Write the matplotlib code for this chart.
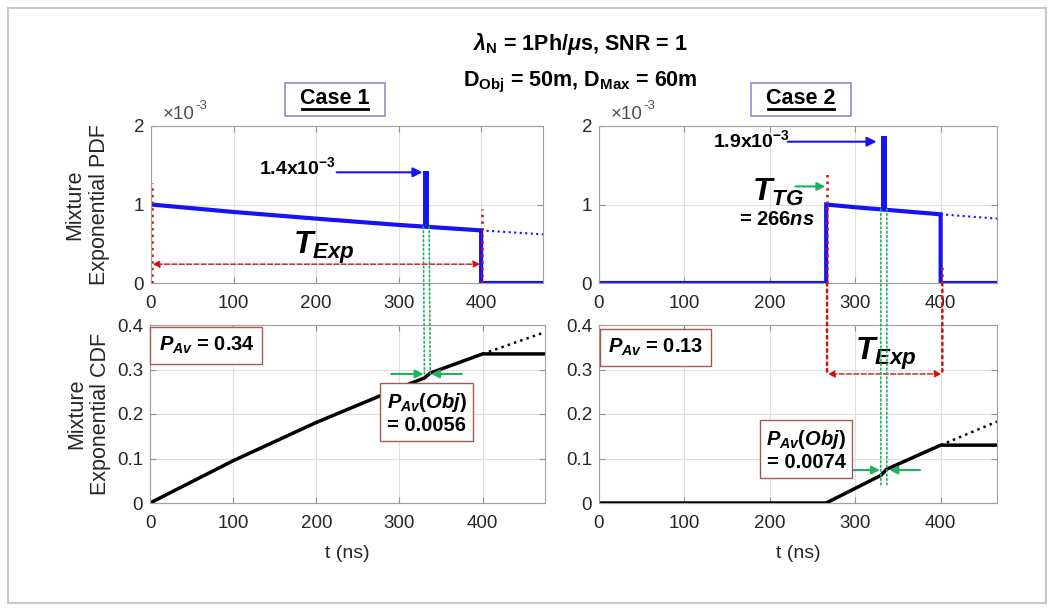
import matplotlib
matplotlib.use('Agg')
import matplotlib.pyplot as plt
from matplotlib.patches import Rectangle, ConnectionPatch
from matplotlib.lines import Line2D

plt.rcParams['font.family'] = ['Liberation Sans', 'DejaVu Sans']
plt.rcParams['mathtext.fontset'] = 'custom'
plt.rcParams['mathtext.rm'] = 'Liberation Sans:bold'
plt.rcParams['mathtext.it'] = 'Liberation Sans:italic:bold'
plt.rcParams['mathtext.bf'] = 'Liberation Sans:bold'

# PDF, case 1 (x1e-3)
t_pdf1 = [0, 100, 200, 300, 400, 400, 475]
pdf1 = [1.0, 0.905, 0.82, 0.74, 0.67, 0.0, 0.0]
t_pdf1_ext = [400, 475]
pdf1_ext = [0.67, 0.62]
spike1_t, spike1_base, spike1_top = 333.5, 0.715, 1.43

# PDF, case 2 (x1e-3)
t_pdf2 = [0, 266, 266, 300, 400, 400, 466]
pdf2 = [0.0, 0.0, 1.0, 0.965, 0.875, 0.0, 0.0]
t_pdf2_ext = [400, 466]
pdf2_ext = [0.875, 0.82]
spike2_t, spike2_base, spike2_top = 333.5, 0.935, 1.87

# CDF, case 1
t_cdf1 = [0, 100, 200, 300, 330, 337, 400, 475]
cdf1 = [0.0, 0.095, 0.181, 0.259, 0.281, 0.292, 0.335, 0.335]
t_cdf1_ext = [400, 475]
cdf1_ext = [0.335, 0.384]

# CDF, case 2
t_cdf2 = [0, 266, 330, 337, 400, 466]
cdf2 = [0.0, 0.0, 0.062, 0.076, 0.13, 0.13]
t_cdf2_ext = [400, 466]
cdf2_ext = [0.13, 0.183]

xticks = [0, 100, 200, 300, 400]
BLUE = '#1414f5'
RED = '#d01010'
GREEN = '#20b060'
BOXEDGE = '#a85858'
TXT = '#262626'

fig = plt.figure(figsize=(10.54, 6.1), dpi=100)
W, H = 1054, 610


def ax_at(x0, y0, x1, y1):
    return fig.add_axes([x0 / W, 1 - y1 / H, (x1 - x0) / W, (y1 - y0) / H])


ax1 = ax_at(151, 126, 543, 283)
ax2 = ax_at(599, 126, 997, 283)
ax3 = ax_at(150, 325, 545, 503)
ax4 = ax_at(599, 325, 997, 503)

for ax in (ax1, ax2, ax3, ax4):
    ax.grid(True, color='#e0e0e0', linewidth=0.8)
    ax.set_axisbelow(True)
    ax.tick_params(direction='in', labelsize=13.5, length=4, color='#909090',
                   labelcolor=TXT, top=True, right=True)
    ax.tick_params(axis='x', pad=9)
    ax.tick_params(axis='y', pad=5)
    for s in ax.spines.values():
        s.set_color('#a0a0a0')
    ax.set_xticks(xticks)

ax1.set_xlim(0, 475)
ax3.set_xlim(0, 475)
ax2.set_xlim(0, 466)
ax4.set_xlim(0, 466)
for ax in (ax1, ax2):
    ax.set_ylim(0, 2)
    ax.set_yticks([0, 1, 2])
for ax in (ax3, ax4):
    ax.set_ylim(0, 0.4)
    ax.set_yticks([0, 0.1, 0.2, 0.3, 0.4])
    ax.set_yticklabels(['0', '0.1', '0.2', '0.3', '0.4'])
    ax.set_xlabel('t (ns)', fontsize=14, color=TXT, labelpad=9)

ax1.set_ylabel('Mixture\nExponential PDF', fontsize=15.5, color=TXT, labelpad=17)
ax3.set_ylabel('Mixture\nExponential CDF', fontsize=15.5, color=TXT, labelpad=4)

# offset labels x10^-3
for ax in (ax1, ax2):
    ax.text(0.11, 1.02, '\u00d710', transform=ax.transAxes, fontsize=13.5,
            color='#505050', va='bottom', ha='right')
    ax.text(0.112, 1.09, '-3', transform=ax.transAxes, fontsize=9.5,
            color='#505050', va='bottom', ha='left')

# curves
ax1.plot(t_pdf1, pdf1, color=BLUE, lw=3, solid_joinstyle='miter')
ax1.bar(spike1_t, spike1_top - spike1_base, bottom=spike1_base, width=7,
        color=BLUE, zorder=2)
ax1.plot(t_pdf1_ext, pdf1_ext, color=BLUE, lw=1.5, ls=':')
ax2.plot(t_pdf2, pdf2, color=BLUE, lw=3, solid_joinstyle='miter')
ax2.bar(spike2_t, spike2_top - spike2_base, bottom=spike2_base, width=7,
        color=BLUE, zorder=2)
ax2.plot(t_pdf2_ext, pdf2_ext, color=BLUE, lw=1.5, ls=':')
ax3.plot(t_cdf1, cdf1, color='black', lw=2.5)
ax3.plot(t_cdf1_ext, cdf1_ext, color='black', lw=1.8, ls=':')
ax4.plot(t_cdf2, cdf2, color='black', lw=2.5)
ax4.plot(t_cdf2_ext, cdf2_ext, color='black', lw=1.8, ls=':')

bold = dict(fontweight='bold', ha='center', va='center')

# ---- case 1 annotations ----
ax1.plot([1, 1], [0, 1.27], color=RED, ls=':', lw=1.8, clip_on=False)
ax1.plot([401, 401], [0, 0.94], color=RED, ls=':', lw=1.8)
ax1.annotate('', xy=(2, 0.24), xytext=(399, 0.24),
             arrowprops=dict(arrowstyle='<|-|>', color=RED, ls='--', lw=1,
                             mutation_scale=10, shrinkA=0, shrinkB=0))
ax1.text(210, 0.45, '$T_{Exp}$', fontsize=23, **bold)
ax1.text(178, 1.47, '1.4x10$^{-3}$', fontsize=14, **bold)
ax1.annotate('', xy=(329, 1.41), xytext=(225, 1.41),
             arrowprops=dict(arrowstyle='-|>', color=BLUE, lw=1.5, shrinkA=0,
                             shrinkB=0, mutation_scale=14))

for tx in (330, 337):
    fig.add_artist(ConnectionPatch(xyA=(tx, 0.72), coordsA=ax1.transData,
                                   xyB=(tx, 0.29), coordsB=ax3.transData,
                                   color=GREEN, ls=':', lw=1.2))
ax3.annotate('', xy=(329, 0.29), xytext=(290, 0.29),
             arrowprops=dict(arrowstyle='-|>', color=GREEN, lw=1.5, shrinkA=0,
                             shrinkB=0, mutation_scale=12))
ax3.annotate('', xy=(338, 0.29), xytext=(375, 0.29),
             arrowprops=dict(arrowstyle='-|>', color=GREEN, lw=1.5, shrinkA=0,
                             shrinkB=0, mutation_scale=12))
ax3.text(0.143, 0.885, '$P_{Av}$ = 0.34', transform=ax3.transAxes, fontsize=14.5,
         bbox=dict(boxstyle='square,pad=0.4', fc='white', ec=BOXEDGE, lw=1), **bold)
ax3.text(0.70, 0.505, '$P_{Av}(Obj)$\n= 0.0056', transform=ax3.transAxes,
         fontsize=14.5, linespacing=1.1,
         bbox=dict(boxstyle='square,pad=0.3', fc='white', ec=BOXEDGE, lw=1), **bold)

# ---- case 2 annotations ----
ax2.plot([267, 267], [0, 1.42], color=RED, ls=':', lw=1.8, zorder=3)
ax2.plot([402, 402], [0, 0.26], color=RED, ls=':', lw=1.8, zorder=3)
for tx in (267, 402):
    fig.add_artist(ConnectionPatch(xyA=(tx, 0), coordsA=ax2.transData,
                                   xyB=(tx, 0.29), coordsB=ax4.transData,
                                   color=RED, ls=':', lw=1.8))
ax4.annotate('', xy=(268, 0.29), xytext=(401, 0.29),
             arrowprops=dict(arrowstyle='<|-|>', color=RED, ls='--', lw=1,
                             mutation_scale=10, shrinkA=0, shrinkB=0))
ax4.text(336, 0.335, '$T_{Exp}$', fontsize=23, **bold)

ax2.text(209, 1.15, '$T_{TG}$', fontsize=23, **bold)
ax2.text(208, 0.81, '= 266$ns$', fontsize=14.5, **bold)
ax2.annotate('', xy=(265, 1.23), xytext=(230, 1.23),
             arrowprops=dict(arrowstyle='-|>', color=GREEN, lw=1.5, shrinkA=0,
                             shrinkB=0, mutation_scale=12))
ax2.text(178, 1.82, '1.9x10$^{-3}$', fontsize=14, **bold)
ax2.annotate('', xy=(325, 1.8), xytext=(221, 1.8),
             arrowprops=dict(arrowstyle='-|>', color=BLUE, lw=1.5, shrinkA=0,
                             shrinkB=0, mutation_scale=14))

for tx in (330, 337):
    fig.add_artist(ConnectionPatch(xyA=(tx, 0.94), coordsA=ax2.transData,
                                   xyB=(tx, 0.04), coordsB=ax4.transData,
                                   color=GREEN, ls=':', lw=1.2))
ax4.annotate('', xy=(329, 0.074), xytext=(296, 0.074),
             arrowprops=dict(arrowstyle='-|>', color=GREEN, lw=1.5, shrinkA=0,
                             shrinkB=0, mutation_scale=12))
ax4.annotate('', xy=(340, 0.074), xytext=(376, 0.074),
             arrowprops=dict(arrowstyle='-|>', color=GREEN, lw=1.5, shrinkA=0,
                             shrinkB=0, mutation_scale=12))
ax4.text(0.142, 0.874, '$P_{Av}$ = 0.13', transform=ax4.transAxes, fontsize=14.5,
         bbox=dict(boxstyle='square,pad=0.4', fc='white', ec=BOXEDGE, lw=1), **bold)
ax4.text(0.521, 0.298, '$P_{Av}(Obj)$\n= 0.0074', transform=ax4.transAxes,
         fontsize=14.5, linespacing=1.1,
         bbox=dict(boxstyle='square,pad=0.3', fc='white', ec=BOXEDGE, lw=1), **bold)

# ---- titles and case labels ----
fig.text(580 / W, 1 - 44 / H, r'$\lambda_{\mathbf{N}}$ = 1Ph/$\mu$s, SNR = 1',
         fontsize=15.5, **bold)
fig.text(580 / W, 1 - 82 / H, r'$\mathbf{D_{Obj}}$ = 50m, $\mathbf{D_{Max}}$ = 60m',
         fontsize=15.5, **bold)
for cx, label in ((335, 'Case 1'), (801, 'Case 2')):
    fig.add_artist(Rectangle(((cx - 50) / W, 1 - 116 / H), 100 / W, 33 / H,
                             fc='white', ec='#8c8cc8', lw=1.2,
                             transform=fig.transFigure))
    fig.text(cx / W, 1 - 98 / H, label, fontsize=15.5, **bold)
    fig.add_artist(Line2D([(cx - 33) / W, (cx + 33) / W], [1 - 109 / H] * 2,
                          color='black', lw=2))

# outer frame
fig.add_artist(Rectangle((8 / W, 7 / H), 1038 / W, 595 / H, fill=False,
                         ec='#c8c8c8', lw=1.5, transform=fig.transFigure))

fig.savefig('out.png', dpi=100)
